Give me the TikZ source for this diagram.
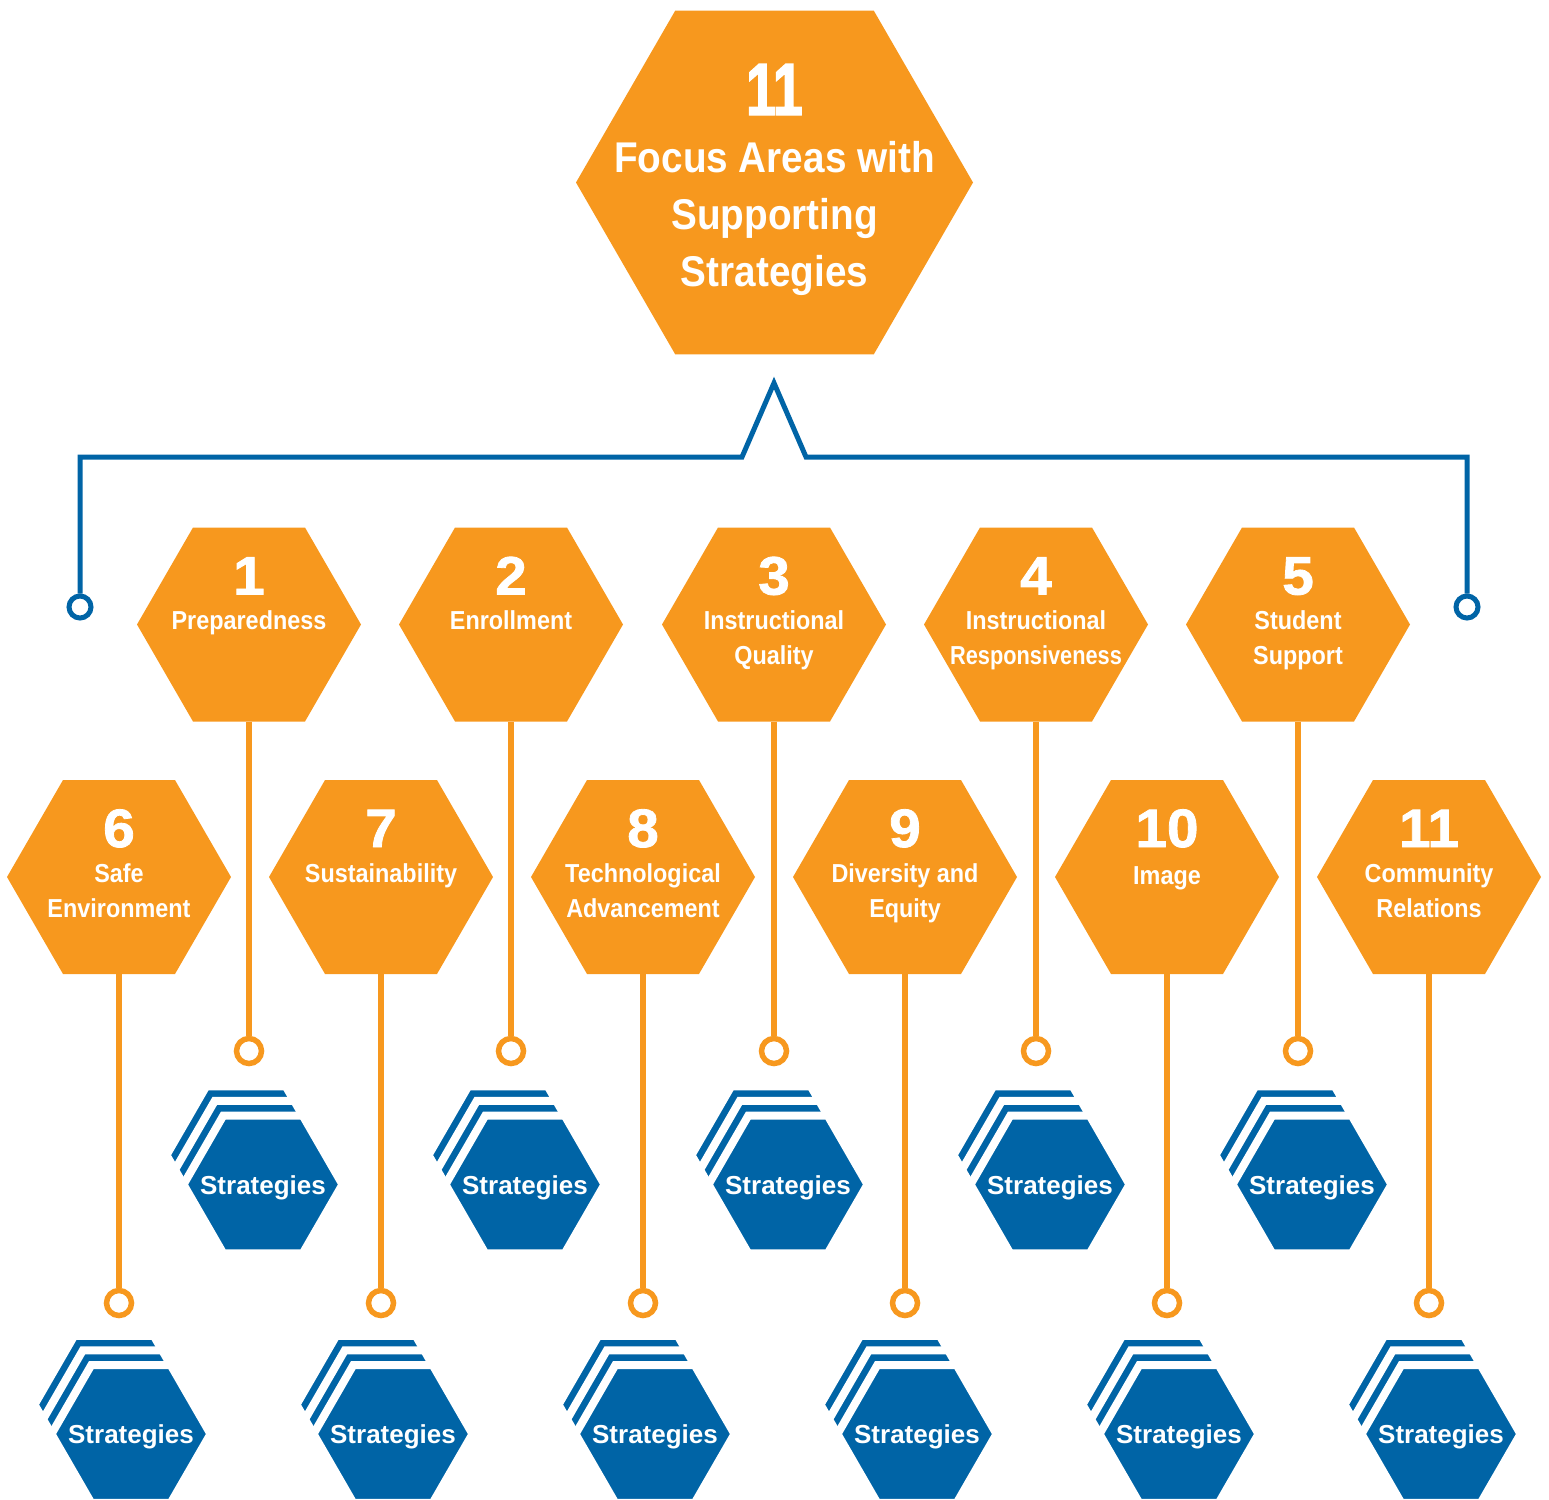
\documentclass[tikz,border=0pt]{standalone}
\usepackage{fontspec}
\setmainfont{Liberation Sans}
\newfontfamily\lblfont[FakeStretch=0.9]{Liberation Sans Bold}
\newfontfamily\numfont[FakeBold=1.5,FakeStretch=1.05]{Liberation Sans Bold}
\newfontfamily\bignumfont[FakeBold=2,FakeStretch=0.72]{Liberation Sans Bold}
\newfontfamily\strfont{Liberation Sans Bold}
\usetikzlibrary{shapes.geometric,positioning,calc,shadows}
\definecolor{focusorange}{HTML}{F7981E}
\definecolor{stratblue}{HTML}{0064A6}

\begin{document}
\begin{tikzpicture}[
  x=1pt, y=-1pt,
  hexa/.style={regular polygon, regular polygon sides=6, inner sep=0pt, outer sep=0pt, fill=focusorange},
  focus/.style={hexa, minimum size=224pt},
  num/.style={font=\numfont\fontsize{54}{54}\selectfont, text=white, anchor=base, inner sep=0pt},
  lbl/.style={font=\lblfont\fontsize{26}{35}\selectfont, text=white, anchor=north, align=center, inner sep=0pt},
  layer/.style={fill=stratblue, draw=white, line width=8pt},
  strat/.style={hexa, minimum size=159pt, layer,
    copy shadow={shadow xshift=-17pt, shadow yshift=29.4pt, layer},
    copy shadow={shadow xshift=-8.5pt, shadow yshift=14.7pt, layer}},
  strattxt/.style={font=\strfont\fontsize{26}{26}\selectfont, text=white, anchor=base, inner sep=0pt},
  pin/.style={circle, draw=focusorange, line width=5.5pt, minimum size=25pt, inner sep=0pt},
  stem/.style={draw=focusorange, line width=5.5pt},
  bpin/.style={circle, draw=stratblue, line width=5pt, minimum size=22pt, inner sep=0pt},
  bracket/.style={draw=stratblue, line width=5pt},
]
\useasboundingbox (0,0) rectangle (1549,1499);

% main hexagon
\node[hexa, minimum size=397pt] (top) at (774.5,182.5) {};
\node[font=\bignumfont\fontsize{74}{74}\selectfont, text=white, anchor=base, inner sep=0pt] (topnum) at ([yshift=67.5pt]top.center) {11};
\node[font=\lblfont\fontsize{43}{57}\selectfont, text=white, anchor=north, align=center, inner sep=0pt] (toptxt) at ([yshift=41.5pt]top.center) {Focus Areas with\\Supporting\\Strategies};

% bracket
\node[bpin] (bl) at (80,607) {};
\node[bpin] (br) at (1467,607) {};
\coordinate (peak) at (774,383);
\draw[bracket] (bl.north) |- ($(peak)+(-32,74)$) -- (peak) -- ($(peak)+(32,74)$) -| (br.north);

% first row
\node[focus] (f1) at (249,624.5) {};
\node[num] at ([yshift=30pt]f1.center) {1};
\node[lbl] at ([yshift=14pt]f1.center) {Preparedness};
\node[focus] (f2) at (511,624.5) {};
\node[num] at ([yshift=30pt]f2.center) {2};
\node[lbl] at ([yshift=14pt]f2.center) {Enrollment};
\node[focus] (f3) at (774,624.5) {};
\node[num] at ([yshift=30pt]f3.center) {3};
\node[lbl] at ([yshift=14pt]f3.center) {Instructional\\Quality};
\node[focus] (f4) at (1036,624.5) {};
\node[num] at ([yshift=30pt]f4.center) {4};
\node[lbl] at ([yshift=14pt]f4.center) {Instructional\\\scalebox{0.93}[1]{Responsiveness}};
\node[focus] (f5) at (1298,624.5) {};
\node[num] at ([yshift=30pt]f5.center) {5};
\node[lbl] at ([yshift=14pt]f5.center) {Student\\Support};

% second row
\node[focus] (f6) at (119,877) {};
\node[num] at ([yshift=30pt]f6.center) {6};
\node[lbl] at ([yshift=14pt]f6.center) {Safe\\Environment};
\node[focus] (f7) at (381,877) {};
\node[num] at ([yshift=30pt]f7.center) {7};
\node[lbl] at ([yshift=14pt]f7.center) {Sustainability};
\node[focus] (f8) at (643,877) {};
\node[num] at ([yshift=30pt]f8.center) {8};
\node[lbl] at ([yshift=14pt]f8.center) {Technological\\Advancement};
\node[focus] (f9) at (905,877) {};
\node[num] at ([yshift=30pt]f9.center) {9};
\node[lbl] at ([yshift=14pt]f9.center) {Diversity and\\Equity};
\node[focus] (f10) at (1167,877) {};
\node[num] at ([yshift=30pt]f10.center) {10};
\node[lbl] at ([yshift=11pt]f10.center) {Image};
\node[focus] (f11) at (1429,877) {};
\node[num] at ([yshift=30pt]f11.center) {11};
\node[lbl] at ([yshift=14pt]f11.center) {Community\\Relations};

% pins and strategy stacks
\node[pin] (p1) at (249,1051) {};
\node[pin] (p2) at (511,1051) {};
\node[pin] (p3) at (774,1051) {};
\node[pin] (p4) at (1036,1051) {};
\node[pin] (p5) at (1298,1051) {};
\node[pin] (p6) at (119,1303) {};
\node[pin] (p7) at (381,1303) {};
\node[pin] (p8) at (643,1303) {};
\node[pin] (p9) at (905,1303) {};
\node[pin] (p10) at (1167,1303) {};
\node[pin] (p11) at (1429,1303) {};

\draw[stem] (f1.south) -- (p1.north);
\draw[stem] (f2.south) -- (p2.north);
\draw[stem] (f3.south) -- (p3.north);
\draw[stem] (f4.south) -- (p4.north);
\draw[stem] (f5.south) -- (p5.north);
\draw[stem] (f6.south) -- (p6.north);
\draw[stem] (f7.south) -- (p7.north);
\draw[stem] (f8.south) -- (p8.north);
\draw[stem] (f9.south) -- (p9.north);
\draw[stem] (f10.south) -- (p10.north);
\draw[stem] (f11.south) -- (p11.north);

\node[strat] (s1) at (263,1184.5) {};
\node[strat] (s2) at (525,1184.5) {};
\node[strat] (s3) at (788,1184.5) {};
\node[strat] (s4) at (1050,1184.5) {};
\node[strat] (s5) at (1312,1184.5) {};
\node[strat] (s6) at (131,1434) {};
\node[strat] (s7) at (393,1434) {};
\node[strat] (s8) at (655,1434) {};
\node[strat] (s9) at (917,1434) {};
\node[strat] (s10) at (1179,1434) {};
\node[strat] (s11) at (1441,1434) {};
\node[strattxt] at ([yshift=-9.5pt]s1.center) {Strategies};
\node[strattxt] at ([yshift=-9.5pt]s2.center) {Strategies};
\node[strattxt] at ([yshift=-9.5pt]s3.center) {Strategies};
\node[strattxt] at ([yshift=-9.5pt]s4.center) {Strategies};
\node[strattxt] at ([yshift=-9.5pt]s5.center) {Strategies};
\node[strattxt] at ([yshift=-9.5pt]s6.center) {Strategies};
\node[strattxt] at ([yshift=-9.5pt]s7.center) {Strategies};
\node[strattxt] at ([yshift=-9.5pt]s8.center) {Strategies};
\node[strattxt] at ([yshift=-9.5pt]s9.center) {Strategies};
\node[strattxt] at ([yshift=-9.5pt]s10.center) {Strategies};
\node[strattxt] at ([yshift=-9.5pt]s11.center) {Strategies};

\end{tikzpicture}
\end{document}
